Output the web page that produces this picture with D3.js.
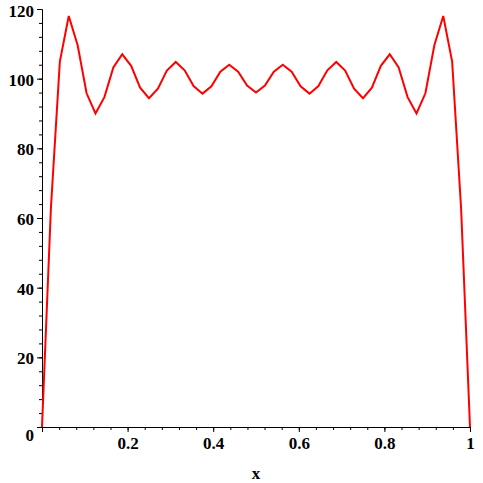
<!DOCTYPE html>
<html>
<head>
<meta charset="utf-8">
<script src="https://cdn.jsdelivr.net/npm/d3@7"></script>
<style>
  body { margin: 0; background: #fff; }
  svg { display: block; }
  .tick text { font-family: "Liberation Serif", "Times New Roman", serif; font-weight: bold; font-size: 17px; fill: #000; }
  .axis path, .axis line { stroke: #000; }
</style>
</head>
<body>
<div id="chart"></div>
<script>
var xValues = [0, 0.0208, 0.0417, 0.0625, 0.0833, 0.1042, 0.125, 0.1458, 0.1667, 0.1875,
  0.2083, 0.2292, 0.25, 0.2708, 0.2917, 0.3125, 0.3333, 0.3542, 0.375, 0.3958,
  0.4167, 0.4375, 0.4583, 0.4792, 0.5, 0.5208, 0.5417, 0.5625, 0.5833, 0.6042,
  0.625, 0.6458, 0.6667, 0.6875, 0.7083, 0.7292, 0.75, 0.7708, 0.7917, 0.8125,
  0.8333, 0.8542, 0.875, 0.8958, 0.9167, 0.9375, 0.9583, 0.9792, 1]
var yValues = [0, 62.8, 104.9, 118.0, 109.6, 95.8, 90.0, 94.7, 103.2, 107.0,
  103.7, 97.4, 94.4, 97.1, 102.3, 104.8, 102.4, 97.9, 95.7, 97.8,
  102.0, 104.0, 102.0, 98.0, 96.0, 98.0, 102.0, 104.0, 102.0, 97.8,
  95.7, 97.9, 102.4, 104.8, 102.3, 97.1, 94.4, 97.4, 103.7, 107.0,
  103.2, 94.7, 90.0, 95.8, 109.6, 118.0, 104.9, 62.8, 0]

var xTicks = [0, 0.2, 0.4, 0.6, 0.8, 1]
var xTickLabels = ["", "0.2", "0.4", "0.6", "0.8", "1"]
var yTicks = [0, 20, 40, 60, 80, 100, 120]
var yTickLabels = ["0", "20", "40", "60", "80", "100", "120"]
var xTitle = "x"

var width = 483, height = 483

var svg = d3.select("#chart").append("svg")
  .attr("width", width)
  .attr("height", height)

var x = d3.scaleLinear().domain([0, 1]).range([42, 470])
var y = d3.scaleLinear().domain([0, 120]).range([427, 9])

// minor ticks
svg.append("g")
  .attr("class", "axis")
  .attr("transform", "translate(0,427)")
  .call(d3.axisBottom(x).tickValues(d3.range(0, 1.001, 0.04)).tickSize(3).tickSizeOuter(0).tickFormat(""))

svg.append("g")
  .attr("class", "axis")
  .attr("transform", "translate(42,0)")
  .call(d3.axisLeft(y).tickValues(d3.range(0, 121, 4)).tickSize(3).tickSizeOuter(0).tickFormat(""))

// major ticks + labels
var xAxis = svg.append("g")
  .attr("class", "axis")
  .attr("transform", "translate(0,427)")
  .call(d3.axisBottom(x).tickValues(xTicks).tickSize(5).tickSizeOuter(0).tickPadding(5)
    .tickFormat((d, i) => xTickLabels[i]))

var yAxis = svg.append("g")
  .attr("class", "axis")
  .attr("transform", "translate(42,0)")
  .call(d3.axisLeft(y).tickValues(yTicks).tickSize(5).tickSizeOuter(0).tickPadding(3)
    .tickFormat((d, i) => yTickLabels[i]))

yAxis.selectAll(".tick text")
  .attr("transform", d => d == 0 ? "translate(0,8)" : d == 120 ? "translate(0,2)" : "translate(0,1)")

svg.selectAll(".domain").attr("stroke", "#000")

// x title
svg.append("text")
  .attr("x", (x(0) + x(1)) / 2)
  .attr("y", 479)
  .attr("text-anchor", "middle")
  .style("font-family", '"Liberation Serif", "Times New Roman", serif')
  .style("font-weight", "bold")
  .style("font-size", "17px")
  .text(xTitle)

// curve
var line = d3.line()
  .x((d, i) => x(xValues[i]))
  .y(d => y(d))

svg.append("path")
  .datum(yValues)
  .attr("fill", "none")
  .attr("stroke", "#ff0000")
  .attr("stroke-width", 2)
  .attr("d", line)
</script>
</body>
</html>
